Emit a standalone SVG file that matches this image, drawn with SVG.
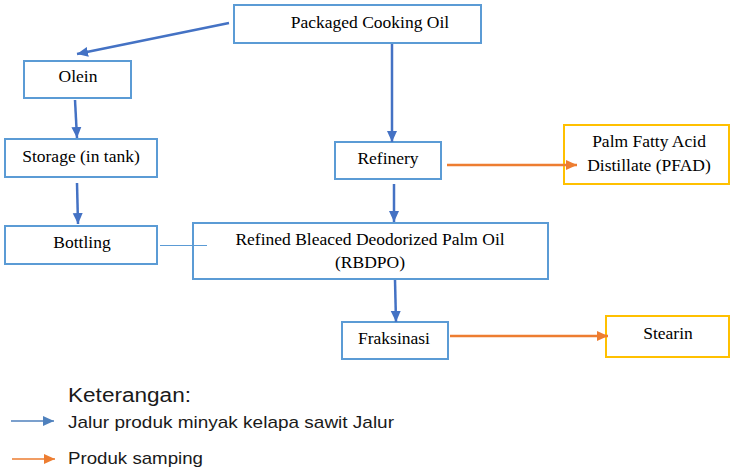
<svg xmlns="http://www.w3.org/2000/svg" width="731" height="473" viewBox="0 0 731 473">
<defs>
<style>
.box{fill:#fff;stroke:#5B9BD5;stroke-width:2}
.ybox{fill:#fff;stroke:#FFC000;stroke-width:2}
.t{font-family:"Liberation Serif","Times New Roman",serif;font-size:17.5px;fill:#000;text-anchor:middle}
.lg{font-family:"Liberation Sans",Arial,sans-serif;fill:#1a1a1a}
.blue{stroke:#4472C4;stroke-width:2.5;fill:none}
.orange{stroke:#ED7D31;stroke-width:2.5;fill:none}
</style>
<marker id="ab" markerUnits="userSpaceOnUse" markerWidth="12" markerHeight="12" viewBox="0 0 12 12" refX="11" refY="6" orient="auto"><path d="M0,1 L11,6 L0,11 Z" fill="#4472C4"/></marker>
<marker id="ao" markerUnits="userSpaceOnUse" markerWidth="12" markerHeight="12" viewBox="0 0 12 12" refX="11" refY="6" orient="auto"><path d="M0,1 L11,6 L0,11 Z" fill="#ED7D31"/></marker>
<marker id="lb" markerUnits="userSpaceOnUse" markerWidth="12" markerHeight="12" viewBox="0 0 12 12" refX="11" refY="6" orient="auto"><path d="M0,1 L11,6 L0,11 Z" fill="#4F81BD"/></marker>
<marker id="lo" markerUnits="userSpaceOnUse" markerWidth="12" markerHeight="12" viewBox="0 0 12 12" refX="11" refY="6" orient="auto"><path d="M0,1 L11,6 L0,11 Z" fill="#ED7D31"/></marker>
</defs>
<rect width="731" height="473" fill="#fff"/>

<g id="packaged"><rect class="box" x="234" y="5" width="247" height="38"/><text class="t" x="370" y="28">Packaged Cooking Oil</text></g>
<g id="olein"><rect class="box" x="24" y="61" width="107" height="37"/><text class="t" x="78" y="82">Olein</text></g>
<g id="storage"><rect class="box" x="5" y="139" width="152" height="38"/><text class="t" x="81" y="162">Storage (in tank)</text></g>
<g id="bottling"><rect class="box" x="5" y="226" width="152" height="38"/><text class="t" x="82" y="248">Bottling</text></g>
<g id="refinery"><rect class="box" x="335" y="142" width="106" height="37"/><text class="t" x="388" y="164">Refinery</text></g>
<g id="pfad"><rect class="ybox" x="564" y="125" width="165" height="59"/><text class="t" x="649" y="147">Palm Fatty Acid</text><text class="t" x="649" y="171">Distillate (PFAD)</text></g>
<g id="rbdpo"><rect class="box" x="193" y="223" width="355" height="56"/><text class="t" x="370" y="245">Refined Bleaced Deodorized Palm Oil</text><text class="t" x="370" y="268">(RBDPO)</text></g>
<g id="fraksinasi"><rect class="box" x="342" y="322" width="106" height="37"/><text class="t" x="394" y="344">Fraksinasi</text></g>
<g id="stearin"><rect class="ybox" x="606" y="316" width="123" height="41"/><text class="t" x="668" y="339">Stearin</text></g>

<g id="connectors">
<line class="blue" x1="229" y1="23" x2="77" y2="54" marker-end="url(#ab)"/>
<line class="blue" x1="392" y1="44" x2="392" y2="142" marker-end="url(#ab)"/>
<line class="blue" x1="75" y1="100" x2="77" y2="138" marker-end="url(#ab)"/>
<line class="blue" x1="77" y1="183" x2="78" y2="224" marker-end="url(#ab)"/>
<line class="blue" x1="394" y1="184" x2="394" y2="222" marker-end="url(#ab)"/>
<line class="blue" x1="395" y1="280" x2="396" y2="322" marker-end="url(#ab)"/>
<line class="orange" x1="447" y1="165" x2="577" y2="165" marker-end="url(#ao)"/>
<line class="orange" x1="450" y1="336" x2="608" y2="336" marker-end="url(#ao)"/>
<line x1="160" y1="245.5" x2="207" y2="245.5" stroke="#5B9BD5" stroke-width="1.2"/>
</g>

<g id="legend">
<text class="lg" x="68" y="402" font-size="20" textLength="123" lengthAdjust="spacingAndGlyphs">Keterangan:</text>
<line x1="11" y1="421" x2="54" y2="421" stroke="#4F81BD" stroke-width="1.5" marker-end="url(#lb)"/>
<text class="lg" x="68" y="428" font-size="17" textLength="326" lengthAdjust="spacingAndGlyphs">Jalur produk minyak kelapa sawit Jalur</text>
<line x1="12" y1="459" x2="55" y2="459" stroke="#ED7D31" stroke-width="1.5" marker-end="url(#lo)"/>
<text class="lg" x="68" y="464" font-size="17" textLength="135" lengthAdjust="spacingAndGlyphs">Produk samping</text>
</g>
</svg>
